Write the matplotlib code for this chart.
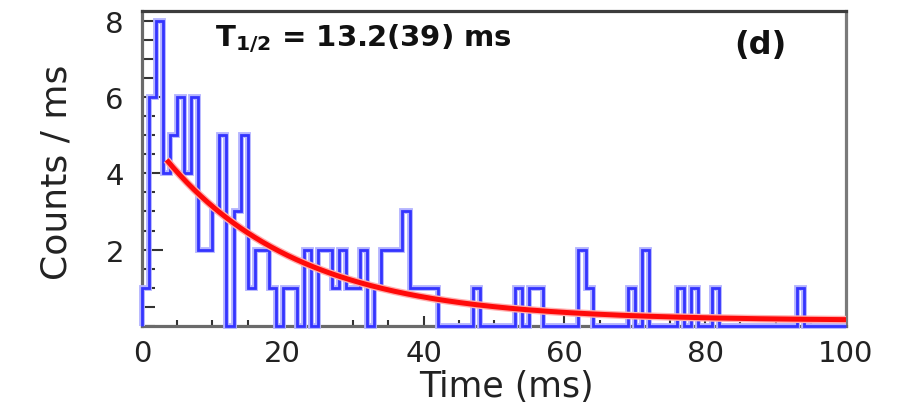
import numpy as np
import matplotlib
matplotlib.use("Agg")
import matplotlib.pyplot as plt
from matplotlib.ticker import MultipleLocator, FixedLocator

# ---- data ----
bin_width_ms = 1.0
counts = [1, 6, 8, 4, 5, 6, 4, 6, 2, 2,      # 0-9 ms
          3, 5, 0, 3, 5, 1, 2, 2, 1, 0,      # 10-19
          1, 1, 0, 2, 0, 2, 2, 1, 2, 1,      # 20-29
          1, 2, 0, 1, 2, 2, 2, 3, 1, 1,      # 30-39
          1, 1, 0, 0, 0, 0, 0, 1, 0, 0,      # 40-49
          0, 0, 0, 1, 0, 1, 1, 0, 0, 0,      # 50-59
          0, 0, 2, 1, 0, 0, 0, 0, 0, 1,      # 60-69
          0, 2, 0, 0, 0, 0, 1, 0, 1, 0,      # 70-79
          0, 1, 0, 0, 0, 0, 0, 0, 0, 0,      # 80-89
          0, 0, 0, 1, 0, 0, 0, 0, 0, 0]      # 90-99

# exponential fit: A*exp(-ln2 t / T_half) + B
fit_amplitude = 5.06
fit_background = 0.14
half_life_ms = 13.2
fit_start_ms = 3.5
fit_end_ms = 100.0

x_ticks = [0, 20, 40, 60, 80, 100]
y_ticks = [2, 4, 6, 8]

# ---- figure ----
plt.rcParams['mathtext.fontset'] = 'dejavusans'
plt.rcParams['font.family'] = ['DejaVu Sans']

W, H = 898, 414
fig = plt.figure(figsize=(W / 100, H / 100), dpi=100)
ax = fig.add_axes([142 / W, 87 / H, 704 / W, 315 / H])

edges = np.arange(len(counts) + 1) * bin_width_ms
# soft halo + core line (reference lines look slightly blurred)
ax.stairs(counts, edges, color='#b4b4ff', lw=4.2, clip_on=False, zorder=3)
ax.stairs(counts, edges, color='#3434ff', lw=2.0, clip_on=False, zorder=3.5)

t = np.linspace(fit_start_ms, fit_end_ms, 400)
fit = fit_amplitude * np.exp(-np.log(2) * t / half_life_ms) + fit_background
ax.plot(t, fit, color='#ffb0b0', lw=5.5, zorder=4, solid_capstyle='butt')
ax.plot(t, fit, color='#ff0a0a', lw=3.6, zorder=4.5, solid_capstyle='butt')

ax.set_xlim(0, 100)
ax.set_ylim(0, 8.25)

ax.xaxis.set_major_locator(FixedLocator(x_ticks))
ax.xaxis.set_minor_locator(MultipleLocator(5))
ax.yaxis.set_major_locator(FixedLocator(y_ticks))
ax.yaxis.set_minor_locator(MultipleLocator(0.5))

ax.tick_params(axis='both', which='both', direction='in', colors='#333333',
               top=False, right=False)
ax.tick_params(axis='x', which='major', length=7, width=1.5, labelsize=21, pad=9.5)
ax.tick_params(axis='x', which='minor', length=4, width=1.5)
ax.tick_params(axis='y', which='major', length=15, width=1.5, labelsize=21, pad=13)
ax.tick_params(axis='y', which='minor', length=9, width=1.5)
for lab in ax.get_xticklabels() + ax.get_yticklabels():
    lab.set_color('#222222')

for side, col in [('left', '#6a6a6a'), ('bottom', '#6a6a6a'),
                  ('top', '#3c3c3c'), ('right', '#7a7a7a')]:
    ax.spines[side].set_color(col)
    ax.spines[side].set_linewidth(2.3)

ax.set_xlabel('Time (ms)', fontsize=25, color='#222222')
ax.set_ylabel('Counts / ms', fontsize=26, color='#222222')
ax.xaxis.set_label_coords(0.517, -0.138)
ax.yaxis.set_label_coords(-0.098, 0.492)

ax.text(0.104, 0.890, r'$\mathbf{T_{1/2}}$ = 13.2(39) ms', transform=ax.transAxes,
        fontsize=21, fontweight='bold', ha='left', va='baseline', color='#111111')
ax.text(0.878, 0.895, '(d)', transform=ax.transAxes, fontsize=23,
        fontweight='bold', ha='center', va='center', color='#111111')

fig.savefig('out.png', dpi=100)
